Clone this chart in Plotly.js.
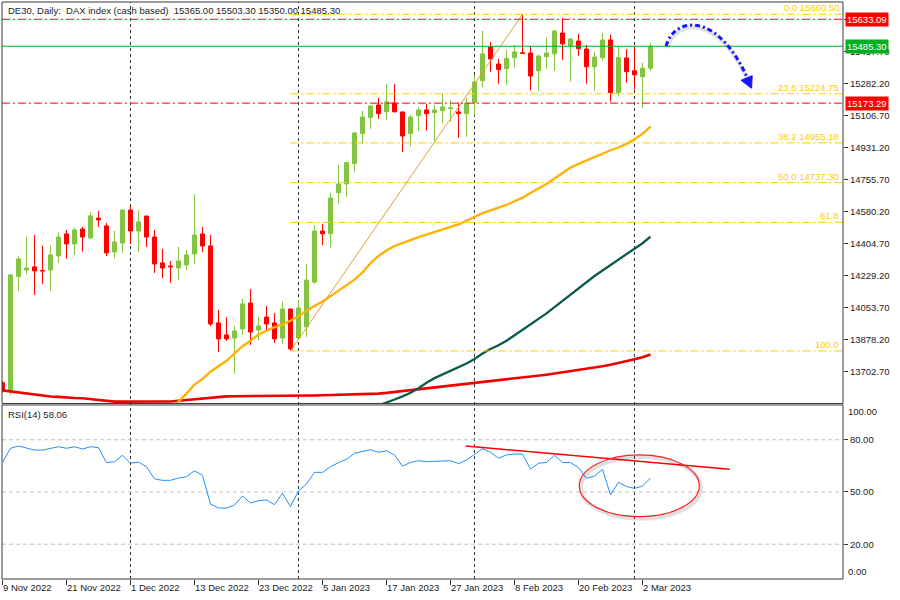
<!DOCTYPE html>
<html><head><meta charset="utf-8">
<script src="https://cdn.plot.ly/plotly-3.0.1.min.js"></script>
<style>html,body{margin:0;padding:0;background:#fff}#chart{width:900px;height:600px}</style>
</head><body><div id="chart"></div>
<script>
// ---------------- DATA ----------------
const dates = ['2022-11-09','2022-11-10','2022-11-11','2022-11-14','2022-11-15','2022-11-16','2022-11-17','2022-11-18',
'2022-11-21','2022-11-22','2022-11-23','2022-11-24','2022-11-25','2022-11-28','2022-11-29','2022-11-30',
'2022-12-01','2022-12-02','2022-12-05','2022-12-06','2022-12-07','2022-12-08','2022-12-09','2022-12-12',
'2022-12-13','2022-12-14','2022-12-15','2022-12-16','2022-12-19','2022-12-20','2022-12-21','2022-12-22',
'2022-12-23','2022-12-27','2022-12-28','2022-12-29','2022-12-30','2023-01-02','2023-01-03','2023-01-04',
'2023-01-05','2023-01-06','2023-01-09','2023-01-10','2023-01-11','2023-01-12','2023-01-13','2023-01-16',
'2023-01-17','2023-01-18','2023-01-19','2023-01-20','2023-01-23','2023-01-24','2023-01-25','2023-01-26',
'2023-01-27','2023-01-30','2023-01-31','2023-02-01','2023-02-02','2023-02-03','2023-02-06','2023-02-07',
'2023-02-08','2023-02-09','2023-02-10','2023-02-13','2023-02-14','2023-02-15','2023-02-16','2023-02-17',
'2023-02-20','2023-02-21','2023-02-22','2023-02-23','2023-02-24','2023-02-27','2023-02-28','2023-03-01',
'2023-03-02','2023-03-03'];
const open = [13640,13591,14222,14258,14275,14256,14258,14335,14456,14401,14483,14434,14543,14500,14357,14406,
14587,14472,14554,14439,14297,14280,14269,14286,14346,14456,14390,13968,13902,13885,13935,14077,
13929,14000,13968,13885,14044,13885,13946,14192,14472,14457,14682,14730,14841,15006,15094,15163,
15126,15174,15125,15006,15104,15136,15121,15132,15143,15125,15116,15176,15296,15481,15388,15362,
15423,15450,15448,15351,15428,15444,15558,15487,15514,15470,15373,15423,15520,15231,15421,15351,
15318,15365.00];
const high = [13650,14235,14335,14441,14450,14392,14392,14463,14478,14490,14496,14576,14582,14516,14472,14590,
14609,14587,14556,14478,14374,14308,14384,14368,14675,14494,14450,14039,14000,13951,14099,14154,
14000,14061,14022,14083,14046,14094,14291,14505,14511,14681,14834,14851,15012,15130,15160,15202,
15278,15278,15127,15108,15152,15169,15163,15227,15190,15176,15202,15328,15569,15509,15415,15466,
15492,15660.5,15487,15437,15532,15575,15640,15531,15554,15492,15454,15558,15549,15487,15470,15487,
15394,15503.30];
const low = [13585,13573,14143,14236,14121,14182,14143,14298,14319,14341,14359,14428,14494,14335,14324,14352,
14401,14357,14384,14242,14214,14187,14203,14258,14291,14357,13951,13809,13869,13688,13902,13847,
13874,13929,13858,13853,13814.1,13874,13891,14182,14395,14381,14622,14660,14797,14948,15033,15088,
15081,15121,14905,14938,15021,15022,14966,15063,15070,14984,14989,15103,15258,15346,15280,15274,
15368,15444,15242,15242,15361,15350,15410,15291,15433,15280,15242,15406,15181,15214,15285,15247,
15147,15350.00];
const close = [13595,14231,14319,14269,14253,14252,14341,14439,14401,14478,14439,14555,14533,14352,14412,14587,
14472,14522,14439,14291,14269,14275,14308,14341,14450,14390,13962,13880,13880,13924,14072,13918,
13951,13962,13880,14044,13825,14050,14203,14472,14457,14653,14730,14847,15010,15097,15158,15116,
15180,15126,14993,15097,15136,15116,15136,15152,15148,15116,15174,15289,15443,15415,15357,15419,
15454,15446,15322,15432,15448,15569,15499,15525,15472,15373,15426,15520,15231,15423,15346,15329,
15365,15485.30];

// moving averages (visible parts only)
const maOrangeStart = 21;
const maOrange = [13500,13536,13580,13630,13660,13700,13730,13760,13800,13840,13870,13905,13925,13945,13960,13980,
14005,14035,14060,14085,14115,14145,14175,14205,14245,14295,14335,14365,14390,14408,14422,14438,
14453,14468,14482,14495,14508,14530,14550,14570,14585,14600,14615,14635,14655,14680,14705,14730,
14760,14790,14820,14840,14860,14878,14896,14915,14930,14950,14975,15005,15044];
const maTealStart = 47;
const maTeal = [13515,13530,13548,13565,13585,13610,13640,13665,13685,13705,13725,13745,13770,13800,13825,13845,
13870,13900,13930,13960,13990,14020,14055,14090,14125,14160,14195,14225,14255,14285,14315,14345,
14375,14405,14441];
const maRed = [13598,13592,13587,13580,13574,13568,13564,13562,13558,13556,13555,13550,13545,13538,13536,13536,
13536,13536,13536,13536,13536,13537,13541,13545,13550,13556,13560,13563,13565,13566,13566,13566,
13567,13567,13568,13568,13569,13569,13570,13570,13571,13572,13573,13574,13575,13576,13578,13580,
13584,13589,13594,13599,13604,13609,13614,13618,13622,13626,13630,13635,13640,13645,13650,13655,
13660,13666,13671,13677,13684,13690,13696,13702,13708,13715,13722,13730,13738,13747,13757,13768,
13780,13794];

const rsi = [67.1,75.1,76.4,75.3,74.1,74.1,74.9,76.0,75.1,76.0,74.7,76.0,75.5,66.9,67.4,71.1,
66.5,67.2,64.5,57.5,56.7,56.7,58.0,58.8,62.2,59.6,43.1,40.8,40.8,42.5,47.7,43.7,
45.0,45.4,42.7,49.2,41.6,50.6,54.6,61.3,61.3,64.5,66.9,68.8,72.2,73.2,74.3,72.8,
73.7,71.3,64.9,67.0,68.0,67.4,67.6,68.0,68.0,66.3,68.4,71.6,74.9,72.8,69.4,71.3,
71.8,71.8,63.2,66.5,67.0,71.1,66.9,66.9,64.0,57.9,59.2,63.0,48.3,55.6,53.1,52.1,
53.4,58.06];

const xTickDates = ['2022-11-09','2022-11-21','2022-12-01','2022-12-13','2022-12-23','2023-01-05','2023-01-17','2023-01-27','2023-02-08','2023-02-20','2023-03-02'];
const xTickLabels = ['9 Nov 2022','21 Nov 2022','1 Dec 2022','13 Dec 2022','23 Dec 2022','5 Jan 2023','17 Jan 2023','27 Jan 2023','8 Feb 2023','20 Feb 2023','2 Mar 2023'];
// the 15633.20 tick is fully covered by the 15633.09 tag in the reference, so its text is left empty
const yTickValues = [13702.70,13878.20,14053.70,14229.20,14404.70,14580.20,14755.70,14931.20,15106.70,15282.20,15457.70,15633.20];
const yTickLabels = ['13702.70','13878.20','14053.70','14229.20','14404.70','14580.20','14755.70','14931.20','15106.70','15282.20','15457.70',''];
const rsiTickLabels = ['20.00','50.00','80.00'];

const fibHigh = 15660.5, fibLow = 13814.1, fibStartIdx = 36, fibEndIdx = 65;
const fibLevels = [0, 23.6, 38.2, 50, 61.8, 100];
const fibLabels = ['0.0 15660.50','23.6 15224.75','38.2 14955.18','50.0 14737.30','61.8','100.0'];
const redLevels = [15633.09, 15173.29];

// ---------------- BUILD ----------------
const N = dates.length;
const idx = dates.map((d,i)=>i);
const xMin = -0.06, xMax = 105.06;
const GREEN = '#83C440', RED = '#FF0000', GOLD = '#FFCC00';
const isUp = idx.map(i => close[i] >= open[i]);

const wickUp = {x:[],y:[]}, wickDn = {x:[],y:[]};
idx.forEach(i => {
  const w = isUp[i] ? wickUp : wickDn;
  w.x.push(i,i,null); w.y.push(low[i],high[i],null);
});

const traces = [
  {type:'scatter',mode:'lines',x:wickUp.x,y:wickUp.y,line:{color:GREEN,width:1},hoverinfo:'skip'},
  {type:'scatter',mode:'lines',x:wickDn.x,y:wickDn.y,line:{color:RED,width:1},hoverinfo:'skip'},
  {type:'bar',x:idx,base:idx.map(i=>Math.min(open[i],close[i])),y:idx.map(i=>Math.abs(close[i]-open[i])),
   width:0.5,marker:{color:idx.map(i=>isUp[i]?GREEN:RED),line:{color:idx.map(i=>isUp[i]?GREEN:RED),width:1}},hoverinfo:'skip'},
  {type:'scatter',mode:'lines',x:idx,y:maRed,line:{color:'#F20000',width:2.6},hoverinfo:'skip'},
  {type:'scatter',mode:'lines',x:maOrange.map((v,k)=>k+maOrangeStart),y:maOrange,line:{color:'#FFB000',width:2.3},hoverinfo:'skip'},
  {type:'scatter',mode:'lines',x:maTeal.map((v,k)=>k+maTealStart),y:maTeal,line:{color:'#0D5A4E',width:2.3},hoverinfo:'skip'},
  {type:'scatter',mode:'lines',x:idx,y:rsi,xaxis:'x',yaxis:'y2',line:{color:'#1E90FF',width:1},hoverinfo:'skip'}
];

const mainDom = [0.3042,1], rsiDom = [0,0.3016];
const FONT = 'Liberation Sans, Arial, sans-serif';

const shapes = [];
// month separators
idx.forEach(i => { if (i>0 && dates[i].slice(5,7)!==dates[i-1].slice(5,7)) {
  shapes.push({type:'line',xref:'x',yref:'paper',x0:i,x1:i,y0:0,y1:1,layer:'below',line:{color:'#333',width:1,dash:'3px,3px'}});
}});
// RSI levels
[20,50,80].forEach(v => shapes.push({type:'line',xref:'paper',yref:'y2',x0:0,x1:1,y0:v,y1:v,layer:'below',line:{color:'#C0C0C0',width:1,dash:'4px,3px'}}));
// fib levels
const fibPrice = fibLevels.map(l => fibHigh - l/100*(fibHigh-fibLow));
fibPrice.forEach(p => shapes.push({type:'line',xref:'x',yref:'y',x0:fibStartIdx,x1:xMax,y0:p,y1:p,line:{color:GOLD,width:1,dash:'8px,3px,2px,3px'}}));
shapes.push({type:'line',xref:'x',yref:'y',x0:fibStartIdx,x1:fibEndIdx,y0:fibLow,y1:fibHigh,line:{color:'#E0A030',width:1}});
// red level lines
redLevels.forEach(p => shapes.push({type:'line',xref:'paper',yref:'y',x0:0,x1:1,y0:p,y1:p,line:{color:RED,width:1,dash:'8px,3px,2px,3px'}}));
// current price line
shapes.push({type:'line',xref:'paper',yref:'y',x0:0,x1:1,y0:close[N-1],y1:close[N-1],line:{color:'#00B020',width:1}});
// RSI trendline
shapes.push({type:'line',xref:'x',yref:'y2',x0:57.9,x1:90.9,y0:76.4,y1:63.0,line:{color:RED,width:1.5}});
// ellipse with soft shadow
shapes.push({type:'circle',xref:'x',yref:'y2',x0:72.3,x1:87.3,y0:34.6,y1:70.1,line:{color:'rgba(0,0,0,0.12)',width:4}});
shapes.push({type:'circle',xref:'x',yref:'y2',x0:72.1,x1:87.1,y0:35.8,y1:71.3,line:{color:'#FF2020',width:1.2}});
// blue curved arrow (shadow + arrow)
shapes.push({type:'path',xref:'x',yref:'y',path:'M 83.1,15476 C 84.2,15646 89.9,15663 93.6,15257',line:{color:'rgba(0,0,0,0.12)',width:4}});
shapes.push({type:'path',xref:'x',yref:'y',path:'M 82.94,15486.7 C 84.06,15656.7 89.69,15673.2 93.3,15290',line:{color:'#1414FF',width:3,dash:'5px,3px,2px,3px'}});
shapes.push({type:'path',xref:'x',yref:'y',path:'M 93.63,15255.4 L 93.71,15323.9 L 92.31,15298.6 Z',fillcolor:'#1414FF',line:{color:'#1414FF',width:1}});
// panel borders
shapes.push({type:'rect',xref:'paper',yref:'paper',x0:0,x1:1,y0:mainDom[0],y1:mainDom[1],line:{color:'#3a3a3a',width:1}});
shapes.push({type:'rect',xref:'paper',yref:'paper',x0:0,x1:1,y0:rsiDom[0],y1:rsiDom[1],line:{color:'#3a3a3a',width:1}});

const annotations = [];
const header = 'DE30, Daily:\u00A0 DAX index (cash based)\u00A0 ' + [open[N-1],high[N-1],low[N-1],close[N-1]].map(v=>v.toFixed(2)).join(' ');
annotations.push({xref:'paper',yref:'paper',x:0,y:1,xanchor:'left',yanchor:'top',xshift:4,yshift:-1,showarrow:false,text:header,font:{size:9.5,color:'#222'}});
annotations.push({xref:'paper',yref:'paper',x:0,y:rsiDom[1],xanchor:'left',yanchor:'top',xshift:4,yshift:-2,showarrow:false,text:'RSI(14) '+rsi[N-1].toFixed(2),font:{size:9.5,color:'#222'}});
annotations.push({xref:'paper',yref:'y2',x:1,y:100,xanchor:'left',yanchor:'top',xshift:3,yshift:1,showarrow:false,text:'100.00',font:{size:9.5,color:'#222'}});
annotations.push({xref:'paper',yref:'y2',x:1,y:0,xanchor:'left',yanchor:'bottom',xshift:3,showarrow:false,text:'0.00',font:{size:9.5,color:'#222'}});
fibPrice.forEach((p,k) => annotations.push({xref:'x',yref:'y',x:xMax,y:p,xanchor:'right',yanchor:'bottom',xshift:-2,yshift:-1,showarrow:false,text:fibLabels[k],font:{size:9.5,color:GOLD}}));
const priceTags = [[redLevels[0],RED],[close[N-1],'#00B020'],[redLevels[1],RED]];
priceTags.forEach(t => annotations.push({xref:'paper',yref:'y',x:1,y:t[0],xanchor:'left',yanchor:'middle',xshift:2,showarrow:false,
  text:t[0].toFixed(2),bgcolor:t[1],borderpad:1,font:{size:9.5,color:'#fff'}}));

const layout = {
  width:900,height:600,margin:{l:2,r:57,t:2,b:21,pad:0},
  paper_bgcolor:'#fff',plot_bgcolor:'#fff',showlegend:false,barmode:'overlay',
  font:{family:FONT,size:9.5,color:'#222'},
  xaxis:{range:[xMin,xMax],anchor:'y2',tickvals:xTickDates.map(d=>dates.indexOf(d)),ticktext:xTickLabels,
    ticks:'outside',ticklen:5,tickcolor:'#333',ticklabelposition:'outside right',showgrid:false,zeroline:false,showline:false,
    tickfont:{size:9.5,color:'#222'}},
  yaxis:{domain:mainDom,range:[13526,15728],side:'right',tickvals:yTickValues,ticktext:yTickLabels,
    ticks:'outside',ticklen:4,tickcolor:'#333',showgrid:false,zeroline:false,showline:false,tickfont:{size:9.5,color:'#222'}},
  yaxis2:{domain:rsiDom,range:[0,100],side:'right',tickvals:rsiTickLabels.map(Number),ticktext:rsiTickLabels,
    ticks:'outside',ticklen:4,tickcolor:'#333',showgrid:false,zeroline:false,showline:false,tickfont:{size:9.5,color:'#222'}},
  shapes:shapes,annotations:annotations
};
Plotly.newPlot('chart',traces,layout,{staticPlot:true,displayModeBar:false});
</script></body></html>
